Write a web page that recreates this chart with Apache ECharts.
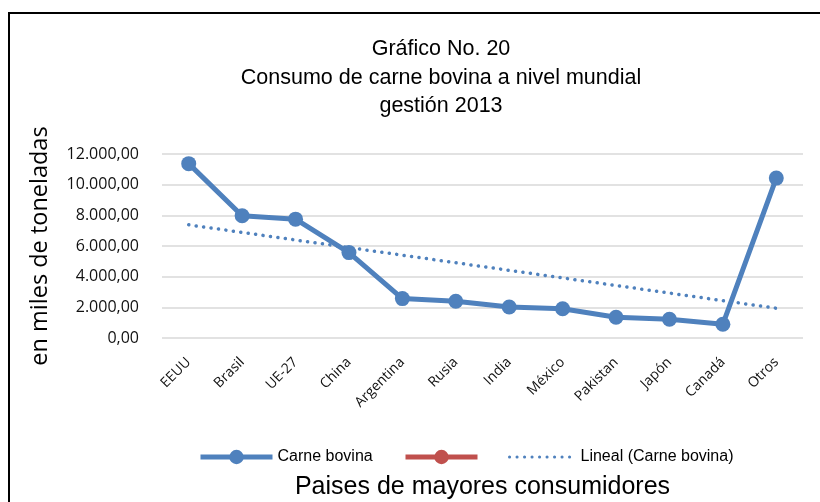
<!DOCTYPE html>
<html>
<head>
<meta charset="utf-8">
<script src="https://cdn.jsdelivr.net/npm/echarts@6/dist/echarts.min.js"></script>
<style>
  html, body { margin: 0; padding: 0; background: #fff; }
  #chart { width: 820px; height: 502px; }
</style>
</head>
<body>
<div id="chart"></div>
<script>
// paises y consumo (miles de toneladas)
const countries = ['EEUU', 'Brasil', 'UE-27', 'China', 'Argentina', 'Rusia', 'India', 'México', 'Pakistan', 'Japón', 'Canadá', 'Otros']
const beef = [11370, 7970, 7750, 5570, 2570, 2400, 2020, 1910, 1350, 1220, 900, 10430]
const emptySeries = [null, null, null, null, null, null, null, null, null, null, null, null]
// linea de tendencia: solo extremos
const trend = [7380, null, null, null, null, null, null, null, null, null, null, 1940]
const titleLines = ['Gráfico No. 20', 'Consumo de carne bovina a nivel mundial', 'gestión 2013']

const blue = '#4F81BD'
const red = '#C0504D'
const narrow = '"Liberation Sans Narrow", "Liberation Sans", sans-serif'
const body = '"Open Sans", "Noto Sans", sans-serif'

const chart = echarts.init(document.getElementById('chart'), null, { renderer: 'canvas' })

function fmt(v) {
  const s = Math.round(v).toString().replace(/\B(?=(\d{3})+(?!\d))/g, '.')
  return s + ',00'
}

const legendText = { fontFamily: narrow, fontSize: 16, color: '#000' }

chart.setOption({
  animation: false,
  backgroundColor: '#fff',
  graphic: [
    {
      type: 'rect',
      shape: { x: 9, y: 13, width: 900, height: 600 },
      style: { fill: 'none', stroke: '#000', lineWidth: 2 },
      silent: true
    }
  ],
  title: {
    text: titleLines.join('\n'),
    left: 436,
    textAlign: 'center',
    top: 30,
    textStyle: { fontFamily: narrow, fontSize: 21.5, fontWeight: 'normal', color: '#000', lineHeight: 28.5 }
  },
  legend: [
    {
      data: ['Carne bovina'],
      left: 193, top: 444,
      itemWidth: 72, itemHeight: 18,
      lineStyle: { width: 5 },
      textStyle: legendText
    },
    {
      data: [' '],
      left: 398, top: 444,
      itemWidth: 72, itemHeight: 18,
      lineStyle: { width: 5 },
      textStyle: legendText
    },
    {
      data: [{ name: 'Lineal (Carne bovina)', itemStyle: { opacity: 0 } }],
      left: 503, top: 444,
      itemWidth: 66, itemHeight: 18,
      lineStyle: { width: 3 },
      textStyle: legendText
    }
  ],
  grid: { left: 162, right: 17, top: 154, bottom: 164, outerBoundsMode: 'none', containLabel: false },
  xAxis: {
    type: 'category',
    data: countries,
    boundaryGap: true,
    name: 'Paises de mayores consumidores',
    nameLocation: 'middle',
    nameGap: 137,
    nameTextStyle: { fontFamily: narrow, fontSize: 25, color: '#000' },
    axisLine: { show: false },
    axisTick: { show: false },
    axisLabel: { rotate: 45, margin: 22, fontFamily: body, fontSize: 14, color: '#111' }
  },
  yAxis: {
    type: 'value',
    min: 0,
    max: 12000,
    interval: 2000,
    name: 'en miles de toneladas',
    nameLocation: 'middle',
    nameGap: 110,
    nameTextStyle: { fontFamily: body, fontSize: 23.5, color: '#000' },
    axisLine: { show: false },
    axisTick: { show: false },
    splitLine: { lineStyle: { color: '#D9D9D9', width: 1.5 } },
    axisLabel: { margin: 23, fontFamily: body, fontSize: 16, color: '#111', formatter: fmt }
  },
  series: [
    {
      name: 'Carne bovina',
      type: 'line',
      data: beef,
      symbol: 'circle',
      symbolSize: 15,
      itemStyle: { color: blue },
      lineStyle: { color: blue, width: 5 },
      z: 3
    },
    {
      name: ' ',
      type: 'line',
      data: emptySeries,
      symbol: 'circle',
      symbolSize: 15,
      itemStyle: { color: red },
      lineStyle: { color: red, width: 5 }
    },
    {
      name: 'Lineal (Carne bovina)',
      type: 'line',
      data: trend,
      connectNulls: true,
      symbol: 'none',
      itemStyle: { color: blue },
      lineStyle: { color: blue, width: 3.5, type: [0.1, 7.4], cap: 'round' },
      z: 2
    }
  ]
})
</script>
</body>
</html>
